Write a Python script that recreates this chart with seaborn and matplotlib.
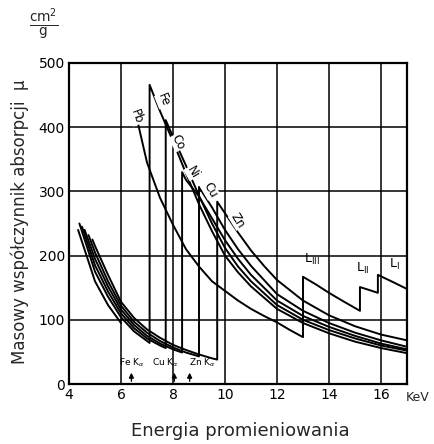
import matplotlib
matplotlib.use("Agg")
import matplotlib.pyplot as plt
import seaborn as sns
import pandas as pd

# ---- data ----
x_ticks = [4, 6, 8, 10, 12, 14, 16]
y_ticks = [0, 100, 200, 300, 400, 500]

# pre-edge branches (below K edge)
fe_pre_e = [4.4, 5.0, 5.5, 6.0, 6.5, 7.0, 7.1]
fe_pre_mu = [250, 175, 136, 104, 82, 67, 64]
co_pre_e = [4.5, 5.0, 5.5, 6.0, 6.5, 7.0, 7.5, 7.72]
co_pre_mu = [245, 185, 144, 110, 87, 71, 60, 56]
ni_pre_e = [4.6, 5.0, 5.5, 6.0, 6.5, 7.0, 7.5, 8.0, 8.35]
ni_pre_mu = [240, 195, 152, 116, 92, 75, 63, 54, 49]
cu_pre_e = [4.75, 5.0, 5.5, 6.0, 6.5, 7.0, 7.5, 8.0, 8.5, 9.0]
cu_pre_mu = [232, 205, 160, 122, 97, 80, 67, 57, 49, 43]
zn_pre_e = [4.9, 5.0, 5.5, 6.0, 6.5, 7.0, 7.5, 8.0, 8.5, 9.0, 9.5, 9.7]
zn_pre_mu = [225, 215, 170, 128, 103, 85, 72, 61, 53, 46, 40, 38]
cr_pre_e = [4.35, 5.0, 5.5, 6.0]
cr_pre_mu = [240, 160, 123, 95]

# post-edge branches (above K edge)
fe_post_e = [7.1, 7.5, 8.0, 8.5, 9.0, 9.5, 10, 10.5, 11, 12, 13, 14, 15, 16, 17]
fe_post_mu = [466, 425, 378, 328, 280, 238, 200, 174, 152, 117, 95, 79, 66, 56, 48]
co_post_e = [7.72, 8.0, 8.5, 9.0, 9.5, 10, 10.5, 11, 12, 13, 14, 15, 16, 17]
co_post_mu = [411, 385, 340, 293, 250, 212, 183, 160, 123, 100, 84, 71, 60, 52]
ni_post_e = [8.35, 8.5, 9.0, 9.5, 10, 10.5, 11, 12, 13, 14, 15, 16, 17]
ni_post_mu = [330, 318, 292, 258, 224, 195, 170, 130, 106, 89, 75, 63, 54]
cu_post_e = [9.0, 9.5, 10, 10.5, 11, 12, 13, 14, 15, 16, 17]
cu_post_mu = [307, 275, 240, 210, 184, 140, 114, 95, 80, 68, 58]
zn_post_e = [9.7, 10, 10.5, 11, 11.5, 12, 13, 14, 15, 16, 17]
zn_post_mu = [284, 266, 236, 208, 184, 162, 130, 107, 90, 77, 68]

# lead curve with L edges
pb_e = [6.55, 7.0, 7.5, 8.0, 8.5, 9.0, 9.5, 10, 10.5, 11, 11.5, 12, 12.5, 13.0,
        13.0, 13.5, 14, 14.5, 15.19, 15.19, 15.5, 15.88, 15.88, 16.5, 17]
pb_mu = [424, 345, 290, 248, 210, 183, 160, 145, 130, 117, 106, 96, 84, 73,
         167, 155, 142, 130, 114, 151, 147, 142, 170, 158, 148]

elements = ["Cr", "Fe", "Co", "Ni", "Cu", "Zn"]
pre_e = [cr_pre_e, fe_pre_e, co_pre_e, ni_pre_e, cu_pre_e, zn_pre_e]
pre_mu = [cr_pre_mu, fe_pre_mu, co_pre_mu, ni_pre_mu, cu_pre_mu, zn_pre_mu]
post_e = [[], fe_post_e, co_post_e, ni_post_e, cu_post_e, zn_post_e]
post_mu = [[], fe_post_mu, co_post_mu, ni_post_mu, cu_post_mu, zn_post_mu]

curve_labels = ["Pb", "Fe", "Co", "Ni", "Cu", "Zn"]
curve_label_x = [6.62, 7.62, 8.2, 8.75, 9.42, 10.5]
curve_label_y = [416, 442, 377, 330, 302, 255]

edge_labels = [r"L$_{\rm III}$", r"L$_{\rm II}$", r"L$_{\rm I}$"]
edge_label_x = [13.05, 15.05, 16.3]
edge_label_y = [182, 168, 174]

line_names = [r"Fe K$_\alpha$", r"Cu K$_\alpha$", r"Zn K$_\alpha$"]
line_energy = [6.40, 8.05, 8.64]
line_text_x = [6.4, 7.7, 9.15]

# ---- build long table ----
rows = []
for el, e1, m1, e2, m2 in zip(elements, pre_e, pre_mu, post_e, post_mu):
    order = 0
    for e, m in zip(list(e1) + list(e2), list(m1) + list(m2)):
        rows.append((el, order, e, m))
        order += 1
order = 0
for e, m in zip(pb_e, pb_mu):
    rows.append(("Pb", order, e, m))
    order += 1
df = pd.DataFrame(rows, columns=["element", "order", "E", "mu"])

sns.set_theme(style="white")
plt.rcParams["font.family"] = ["DejaVu Sans"]

fig = plt.figure(figsize=(4.34, 4.44), dpi=100)
ax = fig.add_axes([69 / 434, 1 - 384 / 444, (407 - 69) / 434, (384 - 63) / 444])

for el in df["element"].unique():
    sub = df[df["element"] == el].sort_values("order")
    sns.lineplot(data=sub, x="E", y="mu", sort=False, estimator=None,
                 color="black", linewidth=1.4, ax=ax, legend=False)

ax.set_xlim(4, 17)
ax.set_ylim(0, 500)
ax.set_xticks(x_ticks)
ax.set_yticks(y_ticks)
ax.set_xticklabels([str(t) for t in x_ticks], fontsize=10)
ax.set_yticklabels([str(t) for t in y_ticks], fontsize=10)
ax.tick_params(length=0, pad=3, colors="black")
ax.set_xlabel("")
ax.set_ylabel("")
for xv in x_ticks[1:]:
    ax.axvline(xv, color="black", lw=1.1, zorder=0)
for yv in y_ticks[1:-1]:
    ax.axhline(yv, color="black", lw=1.1, zorder=0)
for s in ax.spines.values():
    s.set_color("black")
    s.set_linewidth(1.6)
    s.set_visible(True)

rots = [-70, -68, -62, -60, -60, -58]
for t, x, y, r in zip(curve_labels, curve_label_x, curve_label_y, rots):
    ax.text(x, y, t, rotation=r, fontsize=8.5, ha="center", va="center",
            color="black", bbox=dict(facecolor="white", edgecolor="none", pad=0.3))

for t, x, y in zip(edge_labels, edge_label_x, edge_label_y):
    ax.text(x, y, t, fontsize=9, ha="left", va="bottom", color="black")

for t, e, tx in zip(line_names, line_energy, line_text_x):
    ax.annotate("", xy=(e, 22), xytext=(e, 0),
                arrowprops=dict(arrowstyle="-|>", color="black", lw=1.0,
                                mutation_scale=7))
    ax.text(tx, 24, t, fontsize=6.5, ha="center", va="bottom", color="black")

ax.text(16.95, -11, "KeV", fontsize=9, ha="left", va="top", clip_on=False)

fig.text(20 / 434, 0.5, "Masowy współczynnik absorpcji  μ", rotation=90,
         fontsize=12, ha="center", va="center")
fig.text(44 / 434, 1 - 24 / 444, r"$\frac{\mathrm{cm}^2}{\mathrm{g}}$",
         fontsize=14, ha="center", va="center")
fig.text(240 / 434, 1 - 431 / 444, "Energia promieniowania", fontsize=13,
         ha="center", va="center")

fig.savefig("out.png", dpi=100, facecolor="white")
